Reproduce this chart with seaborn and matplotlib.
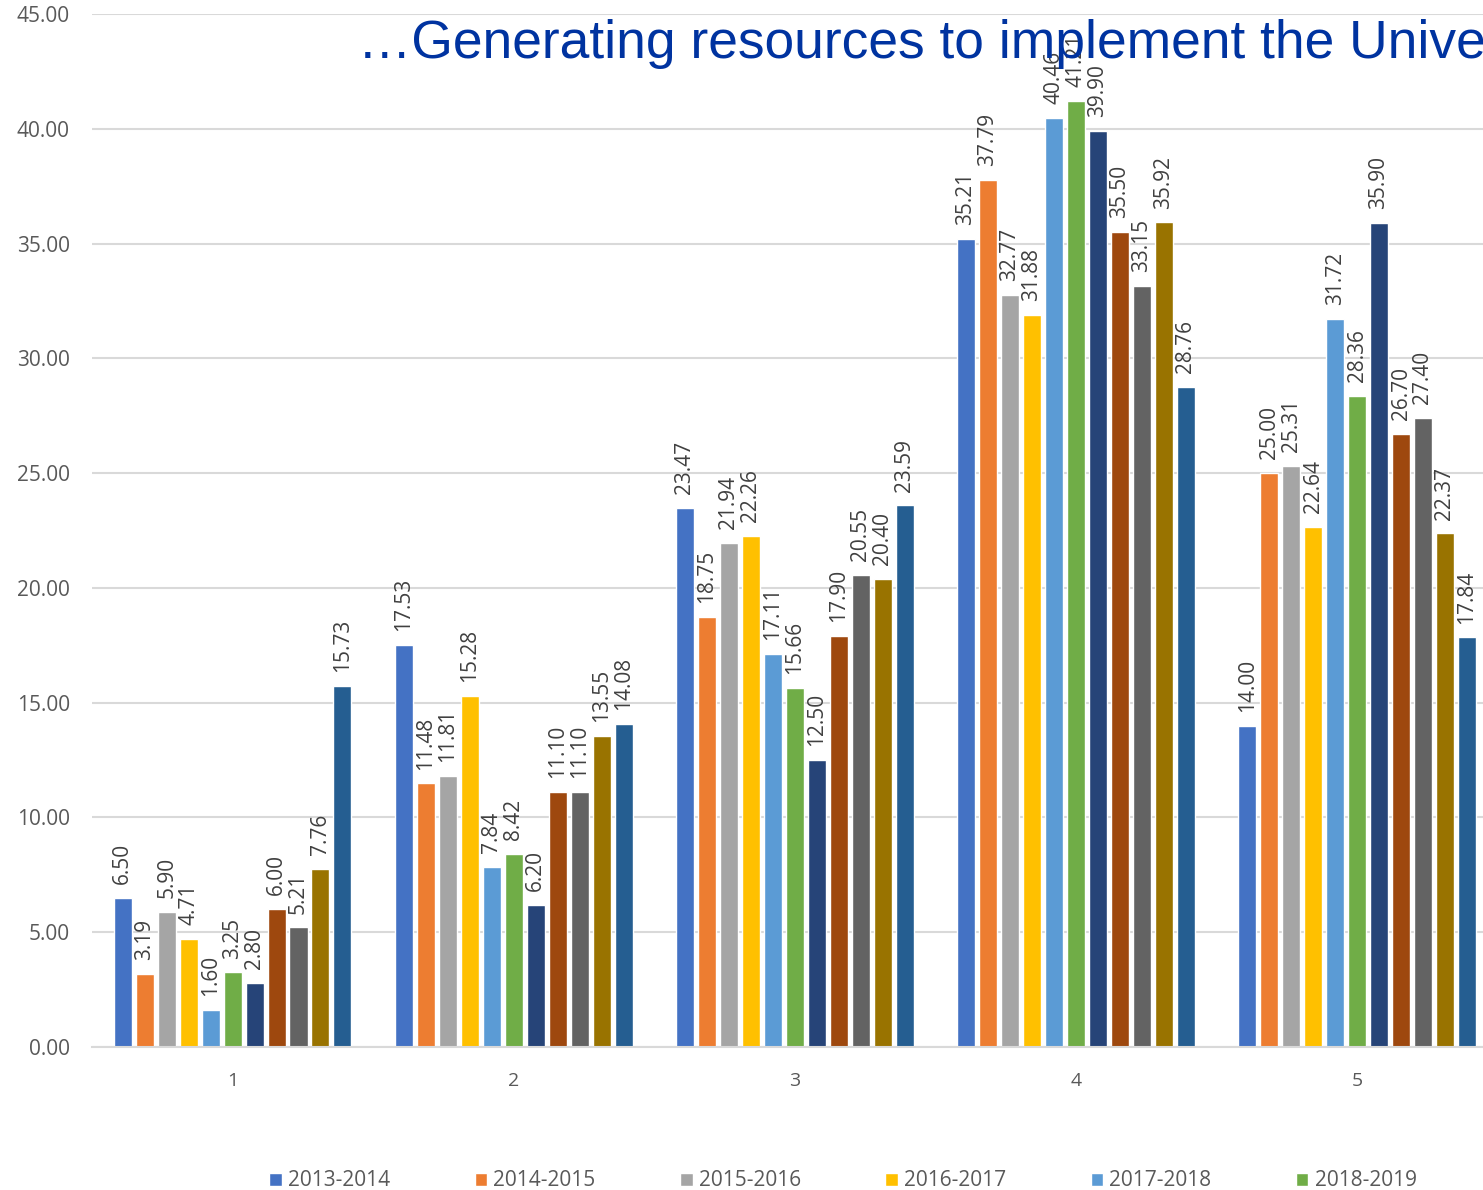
import matplotlib
matplotlib.use("Agg")
import matplotlib.pyplot as plt
import seaborn as sns
import pandas as pd

# data
groups = ["1", "2", "3", "4", "5"]
periods = ["2013-2014", "2014-2015", "2015-2016", "2016-2017", "2017-2018",
           "2018-2019", "2019-2020", "2020-2021", "2021-2022", "2022-2023",
           "2023-2024"]
vals_g1 = [6.50, 3.19, 5.90, 4.71, 1.60, 3.25, 2.80, 6.00, 5.21, 7.76, 15.73]
vals_g2 = [17.53, 11.48, 11.81, 15.28, 7.84, 8.42, 6.20, 11.10, 11.10, 13.55, 14.08]
vals_g3 = [23.47, 18.75, 21.94, 22.26, 17.11, 15.66, 12.50, 17.90, 20.55, 20.40, 23.59]
vals_g4 = [35.21, 37.79, 32.77, 31.88, 40.46, 41.21, 39.90, 35.50, 33.15, 35.92, 28.76]
vals_g5 = [14.00, 25.00, 25.31, 22.64, 31.72, 28.36, 35.90, 26.70, 27.40, 22.37, 17.84]
colors = ["#4472C4", "#ED7D31", "#A5A5A5", "#FFC000", "#5B9BD5", "#70AD47",
          "#264478", "#9E480E", "#636363", "#997300", "#255E91"]

rows = []
for g, vals in zip(groups, [vals_g1, vals_g2, vals_g3, vals_g4, vals_g5]):
    for p, v in zip(periods, vals):
        rows.append({"group": g, "period": p, "value": v})
df = pd.DataFrame(rows)

sns.set_style("white")
plt.rcParams["font.family"] = ["Open Sans", "DejaVu Sans"]

W, H = 1483, 1190
fig = plt.figure(figsize=(W / 100, H / 100), dpi=100)
ax = fig.add_axes([92 / W, (H - 1047) / H, 1 - 92 / W, (1047 - 14) / H])

sns.barplot(data=df, x="group", y="value", hue="period", order=groups,
            hue_order=periods, palette=colors, saturation=1, width=0.86,
            gap=0.18, ax=ax, err_kws={"linewidth": 0})

for c in ax.containers:
    ax.bar_label(c, fmt="%.2f", rotation=90, padding=10, fontsize=15,
                 color="#404040")

ax.set_ylim(0, 45)
ax.set_xlim(-0.5, 4.448)
ax.set_yticks(range(0, 46, 5))
ax.set_yticklabels([f"{t:.2f}" for t in range(0, 46, 5)])
ax.yaxis.grid(True, color="#D9D9D9", linewidth=1.5)
ax.set_axisbelow(True)
for s in ["top", "right", "left"]:
    ax.spines[s].set_visible(False)
ax.spines["bottom"].set_color("#D9D9D9")
ax.spines["bottom"].set_linewidth(1.5)
ax.tick_params(axis="y", length=0, pad=16, labelsize=15, labelcolor="#595959")
ax.tick_params(axis="x", length=0, pad=18, labelsize=14, labelcolor="#595959")
ax.set_xlabel("")
ax.set_ylabel("")

handles, labels = ax.get_legend_handles_labels()
ax.get_legend().remove()
fig.legend(handles[:6], labels[:6], loc="center", ncol=6,
           bbox_to_anchor=(843 / W, 1 - 1181 / H), frameon=False,
           fontsize=15, labelcolor="#595959", handlelength=0.6,
           handleheight=0.6, handletextpad=0.3, columnspacing=4.05)

fig.text(358 / W, 1 - 58 / H,
         "\u2026Generating resources to implement the Unive",
         fontsize=38.4, color="#0033A0", family=["Liberation Sans"],
         va="baseline", ha="left")

fig.savefig("out.png", dpi=100)
